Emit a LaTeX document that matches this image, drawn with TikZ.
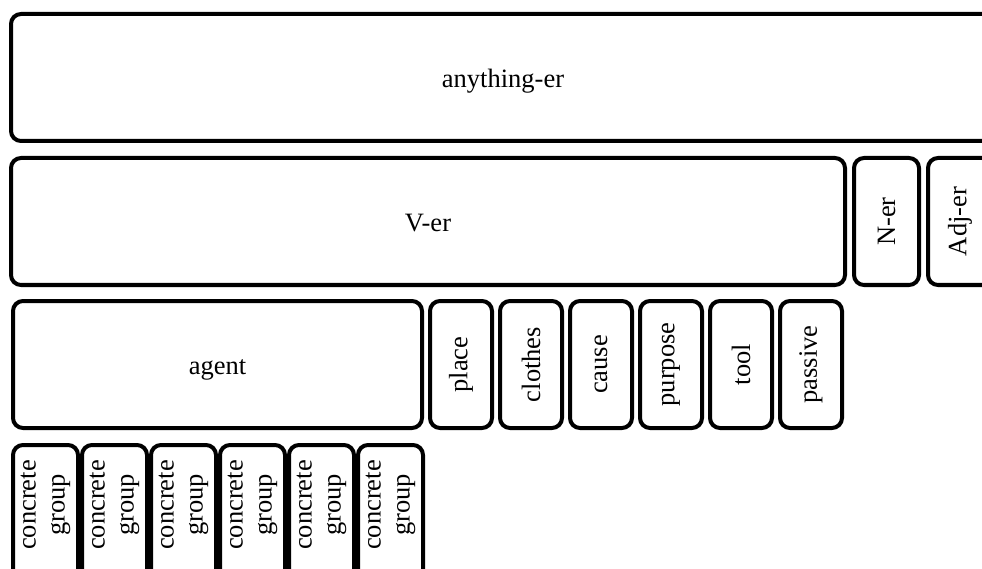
\documentclass[tikz,border=0pt]{standalone}
\usepackage{fontspec}
\setmainfont{Liberation Serif}
\begin{document}
\begin{tikzpicture}[x=1pt,y=-1pt,
  box/.style={draw=black,line width=4pt,rounded corners=10pt,inner sep=0pt,
    fill=white,font=\fontsize{26.5}{30}\selectfont,align=center},
  hbox/.style={box,minimum height=127pt,text height=26pt,text depth=6pt},
  vbox/.style={box,rotate=90,minimum width=127pt},
  vtext/.style={rotate=90,inner sep=0pt,font=\fontsize{26.5}{29}\selectfont,align=center}]
\useasboundingbox (0,0) rectangle (982,569);
\clip (0,0) rectangle (982,569);
% row 1
\node[hbox,minimum width=984pt] (any) at (503,77.5) {anything-er};
% row 2
\node[hbox,minimum width=834pt] (ver) at (428,221.5) {V-er};
\node[vbox,minimum height=65pt] (ner) at (886.5,221.5) {N-er};
\node[vbox,minimum height=64pt] (adj) at (960,221.5) {Adj-er};
% row 3
\node[hbox,minimum width=409pt] (agent) at (217.5,364.5) {agent};
\node[vbox,minimum height=62pt] (place) at (461,364.5) {place};
\node[vbox,minimum height=62pt] (clothes) at (531,364.5) {clothes};
\node[vbox,minimum height=62pt] (cause) at (601,364.5) {cause};
\node[vbox,minimum height=62pt] (purpose) at (671,364.5) {purpose};
\node[vbox,minimum height=62pt] (tool) at (741,364.5) {tool};
\node[vbox,minimum height=62pt] (passive) at (811,364.5) {passive};
% row 4
\foreach \i/\cx in {1/45.5,2/114.5,3/183.5,4/252.5,5/321.5,6/390.5}{
  \node[vbox,minimum width=140pt,minimum height=65pt] (cg\i) at (\cx,515) {};
  \node[vtext] (cgt\i) at (\cx,505) {concrete\\group};
}
\end{tikzpicture}
\end{document}
